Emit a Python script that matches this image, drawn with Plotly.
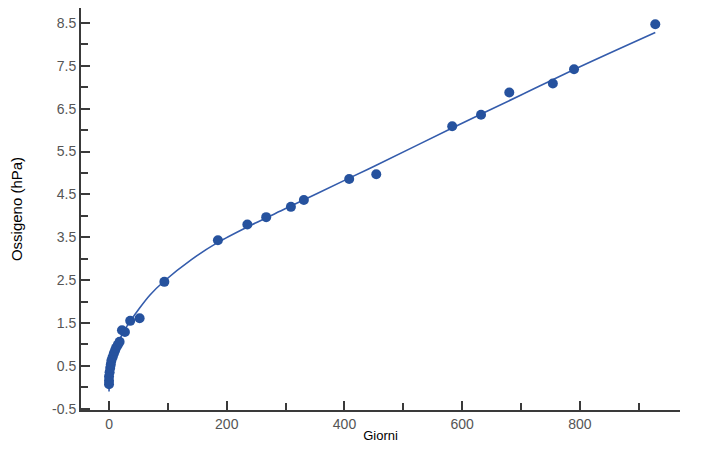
import plotly.graph_objects as go

days = [0, 0, 0, 1, 2, 3, 4, 6, 8, 10, 12, 15, 18, 22, 27, 36, 52,
        94, 185, 235, 267, 309, 331, 408, 454, 583, 632, 680, 754, 790, 928]
oxygen = [0.07, 0.15, 0.25, 0.35, 0.45, 0.53, 0.62, 0.70, 0.78, 0.85, 0.92, 0.99, 1.06, 1.33, 1.29, 1.55, 1.61,
          2.46, 3.43, 3.80, 3.97, 4.21, 4.37, 4.86, 4.97, 6.09, 6.36, 6.88, 7.09, 7.42, 8.47]

# Fitted curve
fit_days = [0, 1, 3, 6, 10, 16, 24, 35, 52, 70, 94, 140, 185, 235, 300, 408, 454, 583, 700, 800, 928]
fit_oxygen = [-0.1, 0.25, 0.5, 0.7, 0.86, 1.05, 1.28, 1.52, 1.85, 2.16, 2.48, 2.98, 3.38, 3.74, 4.17,
              4.88, 5.18, 6.05, 6.82, 7.48, 8.28]

y_ticks = [-0.5, 0.5, 1.5, 2.5, 3.5, 4.5, 5.5, 6.5, 7.5, 8.5]
x_ticks = [0, 200, 400, 600, 800]

blue = "rgb(38,82,158)"
line_blue = "rgb(52,92,172)"
axis_col = "#3a3a3a"
label_col = "#555555"

fig = go.Figure()
fig.add_trace(go.Scatter(x=fit_days, y=fit_oxygen, mode="lines",
                         line=dict(color=line_blue, width=1.6, shape="spline", smoothing=0.8),
                         hoverinfo="skip", showlegend=False))
fig.add_trace(go.Scatter(x=days, y=oxygen, mode="markers",
                         marker=dict(color=blue, size=10, symbol="circle"),
                         showlegend=False))

fig.update_layout(
    width=715, height=453,
    margin=dict(l=73, r=43, t=0, b=51),
    plot_bgcolor="white", paper_bgcolor="white",
    font=dict(family="Liberation Sans, Arial, sans-serif", color=label_col, size=12),
)
fig.update_xaxes(
    range=[-47.6, 970], showgrid=False, zeroline=False, automargin=False,
    showline=True, linecolor=axis_col, linewidth=2,
    tickmode="array", tickvals=x_ticks, ticktext=[str(v) for v in x_ticks],
    ticks="inside", ticklen=9, tickwidth=2, tickcolor=axis_col,
    minor=dict(dtick=100, tick0=0, ticks="inside", ticklen=7, tickwidth=2, tickcolor=axis_col),
    tickfont=dict(size=14, color=label_col),
    title=dict(text="Giorni", font=dict(size=13, color="black"), standoff=0),
)
fig.update_yaxes(
    range=[-0.53, 8.85], showgrid=False, zeroline=False, automargin=False,
    showline=True, linecolor=axis_col, linewidth=2,
    tickmode="array", tickvals=y_ticks, ticktext=[f"{v:.1f}" for v in y_ticks],
    ticks="inside", ticklen=9, tickwidth=2, tickcolor=axis_col,
    minor=dict(dtick=1, tick0=0, ticks="inside", ticklen=7, tickwidth=2, tickcolor=axis_col),
    tickfont=dict(size=14, color=label_col),
    title=dict(text="Ossigeno (hPa)", font=dict(size=15, color="black"), standoff=26),
)

fig.write_html("out.html")
